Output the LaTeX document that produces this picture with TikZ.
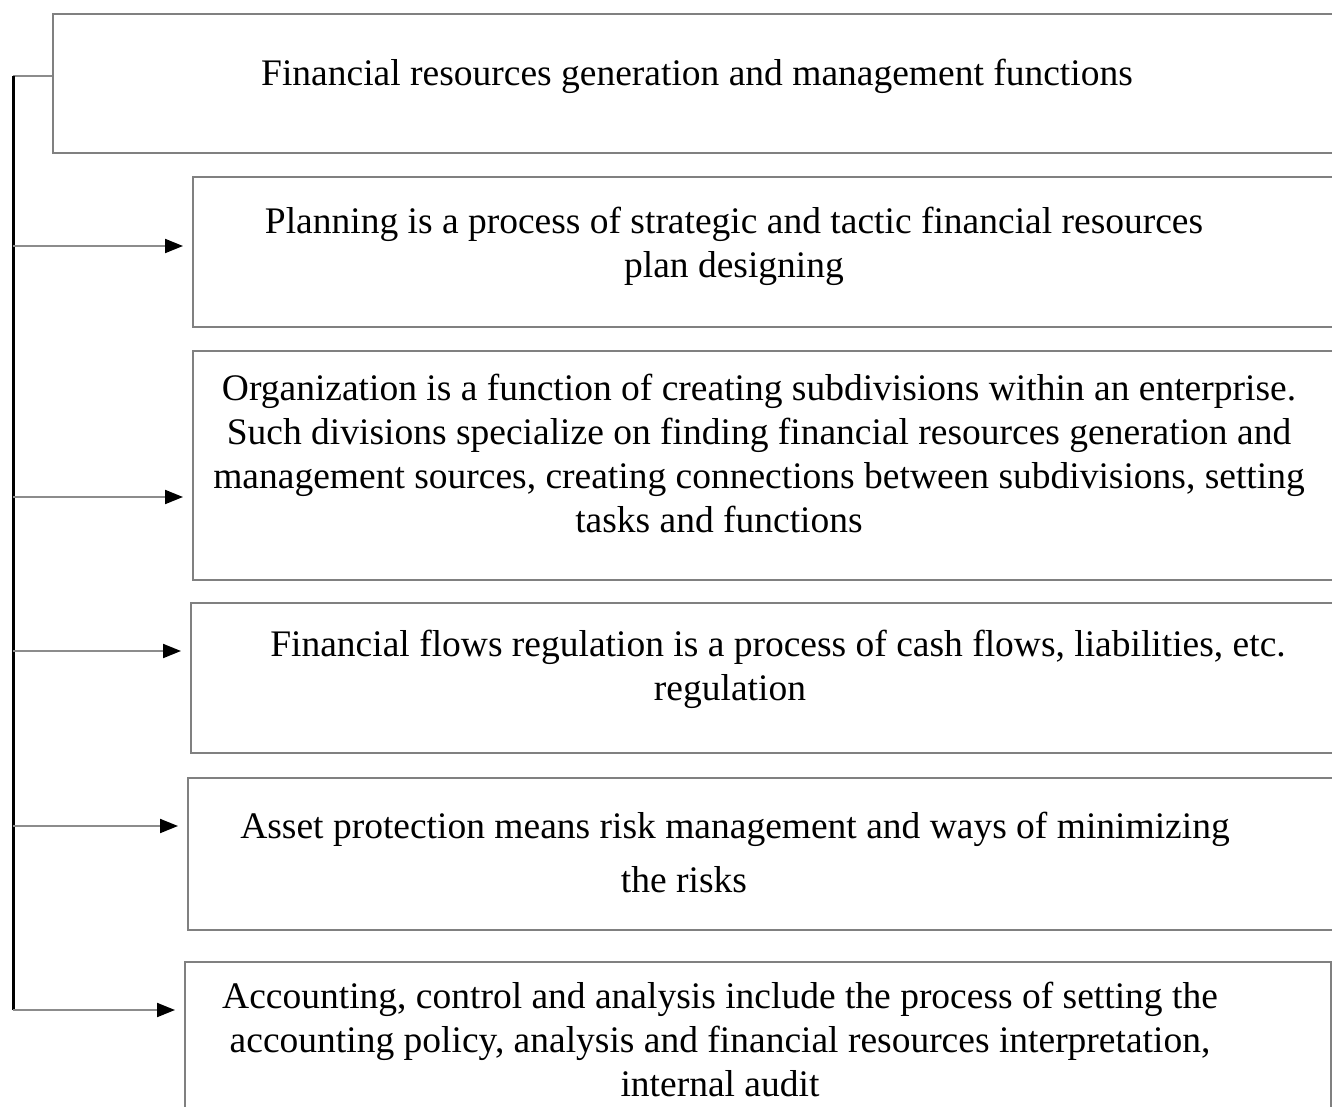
\documentclass[tikz,border=0pt]{standalone}
\usepackage{fontspec}
\setmainfont{Liberation Serif}
\usetikzlibrary{positioning,arrows.meta}

\begin{document}
\begin{tikzpicture}[x=1pt,y=-1pt,
			box/.style = {draw=black!50, line width=1.8pt,
				anchor=north west, inner sep=0pt},
			boxtext/.style = {align=center, inner sep=0pt,
				font=\fontsize{37.5}{44}\selectfont},
			feed/.style = {-{Triangle[length=18pt,width=14pt,black]},
				line width=2pt, black!45, shorten >=9pt},
			trunk/.style = {line width=3pt, black}]
			\useasboundingbox (0,0) rectangle (1332,1107);
			\clip (0,0) rectangle (1332,1107);
			% boxes
			\node[box, minimum width=1300pt, minimum height=139pt] (head) at (52,13) {};
			\node[box, minimum width=1160pt, minimum height=150pt] (plan) at (192,176) {};
			\node[box, minimum width=1160pt, minimum height=229pt] (org) at (192,350) {};
			\node[box, minimum width=1160pt, minimum height=150pt] (flow) at (190,602) {};
			\node[box, minimum width=1160pt, minimum height=152pt] (asset) at (187,777) {};
			\node[box, minimum width=1146pt, minimum height=200pt] (acc) at (184,961) {};
			% texts
			\node[boxtext] (headtxt) at (697,76) {Financial resources generation and management functions};
			\node[boxtext] (plantxt) at (734,246) {Planning is a process of strategic and tactic financial resources\\
				plan designing};
			\node[boxtext] (orgtxt) at (759,453) {Organization is a function of creating subdivisions within an enterprise.\\
				Such divisions specialize on finding financial resources generation and\\
				management sources, creating connections between subdivisions, setting\\
				tasks and functions\hspace*{80pt}};
			\node[boxtext] (flowtxt) at (778,669) {Financial flows regulation is a process of cash flows, liabilities, etc.\\
				regulation\hspace*{96pt}};
			\node[boxtext] (assettxt) at (735,852) {Asset protection means risk management and ways of minimizing\\[10pt]
				the risks\hspace*{102pt}};
			\node[boxtext] (acctxt) at (720,1039) {Accounting, control and analysis include the process of setting the\\
				accounting policy, analysis and financial resources interpretation,\\
				internal audit};
			% connectors
			\coordinate (bus) at (13,76);
			\draw[line width=2pt, black!45] (head.west |- bus) -- (bus);
			\draw[trunk] (bus) -- (bus |- 0,1010);
			\foreach \b/\y in {plan/246, org/497, flow/651, asset/826, acc/1010}
				\draw[feed] (bus |- 0,\y) -- (\b.west |- 0,\y);
\end{tikzpicture}
\end{document}
